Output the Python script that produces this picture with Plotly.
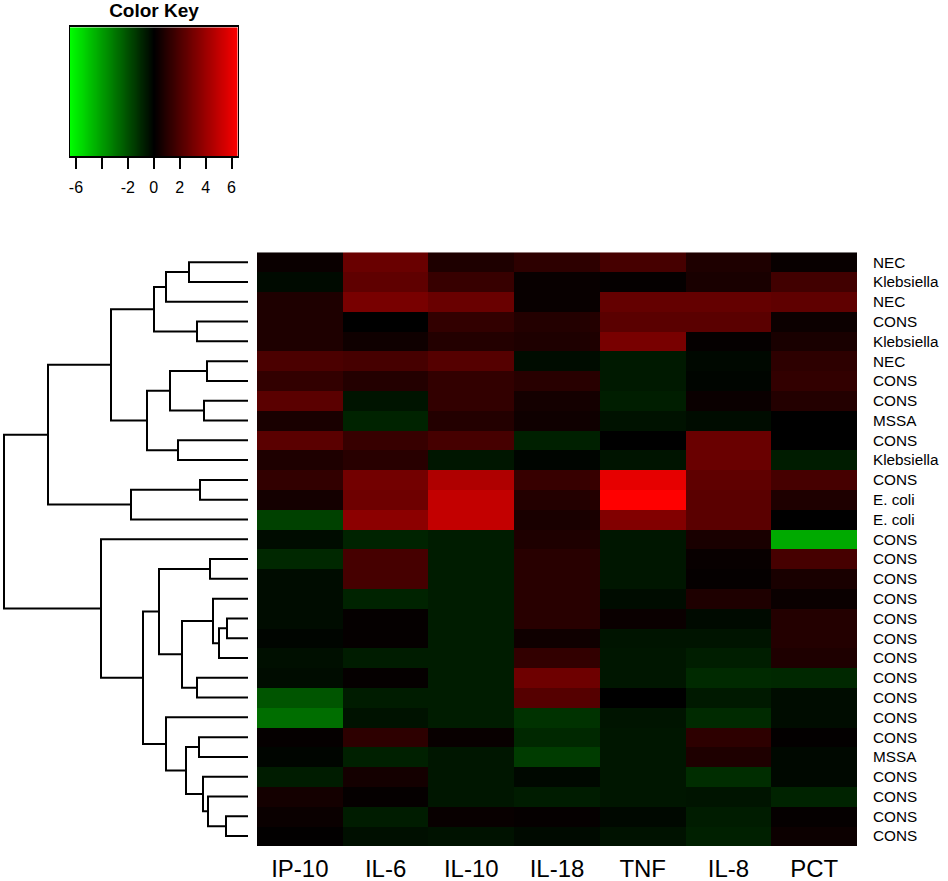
import plotly.graph_objects as go

W = 948
H = 881

cytokines = ['IP-10', 'IL-6', 'IL-10', 'IL-18', 'TNF', 'IL-8', 'PCT']
samples = ['NEC', 'Klebsiella', 'NEC', 'CONS', 'Klebsiella', 'NEC', 'CONS', 'CONS', 'MSSA', 'CONS',
           'Klebsiella', 'CONS', 'E. coli', 'E. coli', 'CONS', 'CONS', 'CONS', 'CONS', 'CONS', 'CONS',
           'CONS', 'CONS', 'CONS', 'CONS', 'CONS', 'MSSA', 'CONS', 'CONS', 'CONS', 'CONS']

#one row per sample, same order as the labels on the right
expression = [
    [0.25, 2.68, 0.77, 1.15, 1.79, 0.77, 0.2],
    [-0.25, 2.42, 1.4, 0.2, 0.13, 0.64, 1.66],
    [0.77, 3.06, 2.68, 0.2, 2.55, 2.55, 2.42],
    [0.77, 0.0, 1.28, 0.89, 2.3, 2.3, 0.3],
    [0.77, 0.38, 0.89, 0.77, 3.06, 0.13, 0.64],
    [1.91, 1.79, 2.17, -0.3, -0.64, -0.2, 1.15],
    [1.28, 0.89, 1.28, 1.02, -0.64, -0.13, 1.28],
    [2.3, -0.5, 1.28, 0.5, -0.77, 0.25, 0.89],
    [0.64, -0.89, 0.89, 0.38, -0.46, -0.3, 0.0],
    [2.3, 1.4, 1.79, -0.82, 0.0, 2.68, 0.0],
    [0.77, 1.02, -0.56, -0.13, -0.5, 2.68, -0.71],
    [1.28, 2.93, 4.46, 1.4, 5.87, 2.42, 1.79],
    [0.5, 2.81, 4.97, 0.89, 6.5, 2.3, 0.77],
    [-1.66, 3.57, 4.97, 0.64, 3.32, 2.3, 0.0],
    [-0.3, -0.89, -0.71, 0.77, -0.56, 0.64, -4.34],
    [-1.02, 1.79, -0.71, 1.02, -0.56, 0.2, 1.79],
    [-0.3, 1.79, -0.71, 1.02, -0.56, 0.13, 0.64],
    [-0.3, -0.89, -0.71, 1.02, -0.3, 0.77, 0.25],
    [-0.3, 0.13, -0.71, 1.02, 0.25, -0.25, 0.89],
    [-0.13, 0.13, -0.71, 0.38, -0.5, -0.5, 0.89],
    [-0.38, -0.71, -0.71, 1.28, -0.56, -0.77, 0.77],
    [-0.3, 0.13, -0.71, 2.81, -0.56, -1.07, -1.02],
    [-2.17, -0.71, -0.71, 2.17, 0.0, -0.64, -0.3],
    [-2.81, -0.46, -0.71, -1.28, -0.5, -1.07, -0.3],
    [0.13, 1.15, 0.2, -1.02, -0.56, 1.15, 0.08],
    [-0.13, -0.82, -0.56, -1.53, -0.56, 0.77, -0.2],
    [-0.71, 0.5, -0.56, -0.2, -0.56, -1.15, -0.2],
    [0.5, 0.13, -0.56, -0.71, -0.56, -0.5, -0.89],
    [0.25, -0.71, 0.2, 0.13, -0.2, -0.71, 0.13],
    [0.05, -0.38, -0.46, -0.25, -0.46, -0.82, 0.3],
]

#dendrogram merges: child a, child b, height. leaves are rows 0-29, new nodes count up from 30
merges = [
    (0, 1, 59), (30, 2, 82), (3, 4, 51), (31, 32, 94), (5, 6, 41),
    (7, 8, 44), (34, 35, 78), (9, 10, 70), (36, 37, 101), (33, 38, 137),
    (11, 12, 48), (40, 13, 117), (39, 41, 200), (15, 16, 38), (18, 19, 21),
    (44, 20, 29), (17, 45, 35), (21, 22, 51), (46, 47, 66), (43, 48, 89),
    (24, 25, 49), (28, 29, 22), (27, 51, 40), (26, 52, 45), (50, 53, 62),
    (23, 54, 82), (49, 55, 105), (14, 56, 147), (42, 57, 244),
]

key_levels = [-6.5, -6, -5.5, -5, -4.5, -4, -3.5, -3, -2.5, -2, -1.5, -1, -0.5, 0,
              0.5, 1, 1.5, 2, 2.5, 3, 3.5, 4, 4.5, 5, 5.5, 6, 6.5]
key_ticks = [-6, -4, -2, 0, 2, 4, 6]
key_labels = ['-6', '', '-2', '0', '2', '4', '6']

green_black_red = [[0, '#00ff00'], [0.5, '#000000'], [1, '#ff0000']]
font_name = 'Liberation Sans'


#walk the merges to get the elbow lines, a node sits halfway between its children
def dendro_lines(merge_list, n_leaves):
    pos = {i: (0, i) for i in range(n_leaves)}
    xs = []
    ys = []
    for i, (a, b, height) in enumerate(merge_list):
        xa, ya = pos[a]
        xb, yb = pos[b]
        xs += [xa, height, height, xb, None]
        ys += [ya, ya, yb, yb, None]
        pos[n_leaves + i] = (height, (ya + yb) / 2)
    return xs, ys


rows = list(range(len(samples)))
dendro_x, dendro_y = dendro_lines(merges, len(samples))

fig = go.Figure()

#main heatmap
fig.add_trace(go.Heatmap(
    x=cytokines,
    y=rows,
    z=expression,
    colorscale=green_black_red,
    zmin=-6.5,
    zmax=6.5,
    showscale=False,
    xaxis='x',
    yaxis='y'))

#row dendrogram
fig.add_trace(go.Scatter(
    x=dendro_x,
    y=dendro_y,
    mode='lines',
    line=dict(color='black', width=2),
    showlegend=False,
    xaxis='x2',
    yaxis='y2'))

#color key
fig.add_trace(go.Heatmap(
    x=key_levels,
    y=[0, 1],
    z=[key_levels, key_levels],
    colorscale=green_black_red,
    zmin=-6.5,
    zmax=6.5,
    zsmooth='best',
    showscale=False,
    xaxis='x3',
    yaxis='y3'))

fig.update_layout(
    width=W,
    height=H,
    margin=dict(l=0, r=0, t=0, b=0),
    paper_bgcolor='white',
    plot_bgcolor='white',
    font=dict(family=font_name, color='black'),
    showlegend=False,
    title=dict(
        text='<b>Color Key</b>',
        font=dict(size=19, family=font_name, color='black'),
        x=154 / W,
        xanchor='center',
        y=1 - 10 / H,
        yanchor='middle'),
    #heatmap axes
    xaxis=dict(
        domain=[257 / W, 857 / W],
        tickfont=dict(size=24),
        ticks='',
        ticklabelstandoff=6,
        showgrid=False,
        zeroline=False),
    yaxis=dict(
        domain=[1 - 846 / H, 1 - 252.3 / H],
        side='right',
        anchor='x',
        range=[29.5, -0.5],
        tickvals=rows,
        ticktext=samples,
        tickfont=dict(size=15.3),
        ticks='',
        ticklabelstandoff=15,
        showgrid=False,
        zeroline=False),
    #dendrogram axes
    xaxis2=dict(
        domain=[0, 257 / W],
        range=[248, -9],
        visible=False,
        anchor='y2'),
    yaxis2=dict(
        domain=[1 - 846 / H, 1 - 252.3 / H],
        range=[29.5, -0.5],
        visible=False,
        anchor='x2'),
    #color key axes
    xaxis3=dict(
        domain=[69.5 / W, 238 / W],
        range=[-6.5, 6.5],
        anchor='y3',
        tickvals=key_ticks,
        ticktext=key_labels,
        tickfont=dict(size=16),
        ticks='outside',
        ticklen=11,
        tickwidth=1.5,
        tickcolor='black',
        ticklabelstandoff=5,
        showline=True,
        linecolor='black',
        linewidth=1.5,
        mirror=True,
        showgrid=False,
        zeroline=False),
    yaxis3=dict(
        domain=[1 - 156.3 / H, 1 - 27.3 / H],
        range=[0, 1],
        anchor='x3',
        showticklabels=False,
        ticks='',
        showline=True,
        linecolor='black',
        linewidth=1,
        mirror=True,
        showgrid=False,
        zeroline=False),
)

fig.write_html("out.html", config={'displayModeBar': False}, post_script="document.body.style.margin='0';")
